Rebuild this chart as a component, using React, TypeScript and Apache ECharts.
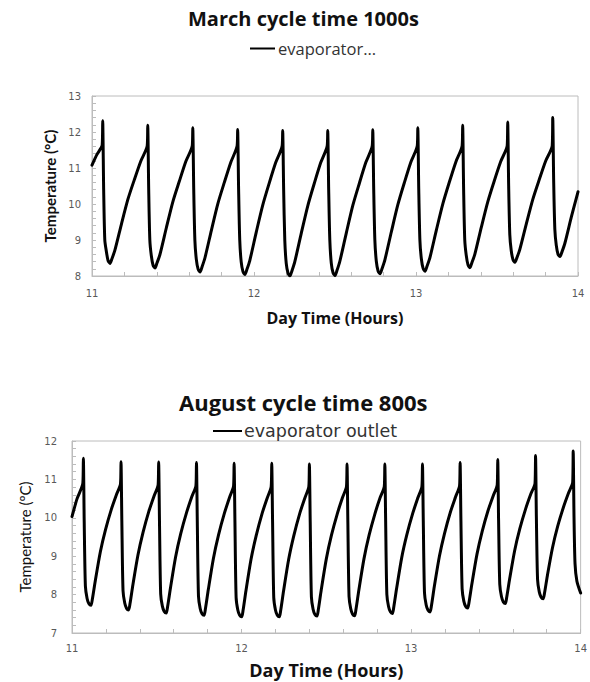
import React, { useEffect, useRef } from "react";
import * as echarts from "echarts";

const marchTitle = "March cycle time 1000s";
const augustTitle = "August cycle time 800s";
const marchLegend = "evaporator...";
const augustLegend = "evaporator outlet";
const xAxisName = "Day Time (Hours)";
const marchYName = "Temperature (°C)";
const augustYName = "Temperature (ºC)";

// [hour of day, temperature °C]
const marchSeries: [number, number][] = [
  [11.0, 11.08], [11.03, 11.37], [11.063, 11.64], [11.066, 12.31], [11.072, 10.4], [11.079, 9.0], [11.088, 8.7], [11.099, 8.43],
  [11.111, 8.35], [11.123, 8.48], [11.141, 8.71], [11.181, 9.43], [11.221, 10.12], [11.261, 10.67], [11.301, 11.19], [11.341, 11.62], [11.344, 12.19], [11.35, 10.4], [11.357, 9.0], [11.366, 8.57], [11.377, 8.3],
  [11.389, 8.22], [11.401, 8.36], [11.419, 8.59], [11.459, 9.34], [11.499, 10.06], [11.539, 10.63], [11.579, 11.18], [11.619, 11.62], [11.622, 12.12], [11.628, 10.4], [11.635, 9.0], [11.644, 8.46], [11.655, 8.19],
  [11.667, 8.11], [11.679, 8.25], [11.697, 8.5], [11.737, 9.27], [11.777, 10.01], [11.817, 10.6], [11.857, 11.16], [11.896, 11.62], [11.899, 12.07], [11.905, 10.4], [11.912, 9.0], [11.921, 8.39], [11.932, 8.12],
  [11.944, 8.04], [11.956, 8.18], [11.974, 8.43], [12.014, 9.22], [12.054, 9.97], [12.094, 10.58], [12.134, 11.15], [12.174, 11.62], [12.177, 12.04], [12.183, 10.4], [12.19, 9.0], [12.199, 8.35], [12.21, 8.08],
  [12.222, 8.0], [12.234, 8.14], [12.252, 8.4], [12.292, 9.19], [12.332, 9.95], [12.372, 10.57], [12.412, 11.15], [12.452, 11.62], [12.455, 12.04], [12.461, 10.4], [12.468, 9.0], [12.477, 8.36], [12.488, 8.09],
  [12.5, 8.01], [12.512, 8.15], [12.53, 8.41], [12.57, 9.2], [12.61, 9.96], [12.65, 10.57], [12.69, 11.15], [12.73, 11.62], [12.733, 12.06], [12.739, 10.4], [12.746, 9.0], [12.755, 8.41], [12.766, 8.14],
  [12.778, 8.06], [12.79, 8.2], [12.808, 8.45], [12.848, 9.23], [12.888, 9.98], [12.928, 10.59], [12.968, 11.16], [13.008, 11.62], [13.011, 12.12], [13.017, 10.4], [13.024, 9.0], [13.033, 8.48], [13.044, 8.21],
  [13.056, 8.13], [13.068, 8.27], [13.086, 8.51], [13.126, 9.28], [13.166, 10.01], [13.206, 10.61], [13.246, 11.17], [13.285, 11.62], [13.288, 12.19], [13.294, 10.4], [13.301, 9.0], [13.31, 8.58], [13.321, 8.31],
  [13.333, 8.23], [13.345, 8.37], [13.363, 8.6], [13.403, 9.35], [13.443, 10.06], [13.483, 10.64], [13.523, 11.18], [13.563, 11.62], [13.566, 12.28], [13.572, 10.5], [13.579, 9.15], [13.588, 8.7], [13.599, 8.45],
  [13.611, 8.38], [13.623, 8.51], [13.641, 8.74], [13.681, 9.45], [13.721, 10.13], [13.761, 10.68], [13.801, 11.2], [13.841, 11.62], [13.844, 12.4], [13.85, 10.6], [13.857, 9.3], [13.866, 8.85], [13.877, 8.6],
  [13.889, 8.54], [13.901, 8.67], [13.919, 8.91], [13.959, 9.64], [14.0, 10.34],
];

const augustSeries: [number, number][] = [
  [11.0, 10.03], [11.03, 10.5], [11.064, 10.9], [11.067, 11.55], [11.072, 9.9], [11.079, 8.22], [11.089, 7.9], [11.1, 7.76],
  [11.112, 7.72], [11.12, 7.88], [11.137, 8.35], [11.167, 9.11], [11.197, 9.68], [11.232, 10.22], [11.262, 10.6], [11.286, 10.88], [11.289, 11.46], [11.294, 9.9], [11.301, 8.1], [11.311, 7.78], [11.322, 7.64],
  [11.334, 7.6], [11.342, 7.76], [11.359, 8.25], [11.389, 9.03], [11.419, 9.62], [11.454, 10.18], [11.484, 10.57], [11.508, 10.86], [11.511, 11.45], [11.516, 9.9], [11.523, 8.02], [11.533, 7.7], [11.544, 7.56],
  [11.556, 7.52], [11.564, 7.69], [11.581, 8.18], [11.611, 8.98], [11.641, 9.58], [11.676, 10.14], [11.706, 10.54], [11.731, 10.84], [11.734, 11.44], [11.739, 9.9], [11.746, 7.96], [11.756, 7.64], [11.767, 7.5],
  [11.779, 7.46], [11.787, 7.63], [11.804, 8.13], [11.834, 8.94], [11.864, 9.55], [11.899, 10.12], [11.929, 10.53], [11.953, 10.83], [11.956, 11.42], [11.961, 9.9], [11.968, 7.92], [11.978, 7.6], [11.989, 7.46],
  [12.001, 7.42], [12.009, 7.59], [12.026, 8.1], [12.056, 8.92], [12.086, 9.53], [12.121, 10.11], [12.151, 10.51], [12.175, 10.82], [12.178, 11.42], [12.183, 9.9], [12.19, 7.92], [12.2, 7.6], [12.211, 7.46],
  [12.223, 7.42], [12.231, 7.59], [12.248, 8.1], [12.278, 8.92], [12.308, 9.53], [12.343, 10.11], [12.373, 10.51], [12.397, 10.82], [12.4, 11.4], [12.405, 9.9], [12.412, 7.94], [12.422, 7.62], [12.433, 7.48],
  [12.445, 7.44], [12.453, 7.61], [12.47, 8.12], [12.5, 8.93], [12.53, 9.54], [12.565, 10.11], [12.595, 10.52], [12.619, 10.82], [12.622, 11.4], [12.627, 9.9], [12.634, 7.95], [12.644, 7.63], [12.655, 7.49],
  [12.667, 7.45], [12.675, 7.62], [12.692, 8.12], [12.722, 8.93], [12.752, 9.54], [12.787, 10.11], [12.817, 10.52], [12.842, 10.82], [12.845, 11.4], [12.85, 9.9], [12.857, 8.01], [12.867, 7.69], [12.878, 7.55],
  [12.89, 7.51], [12.898, 7.68], [12.915, 8.17], [12.945, 8.97], [12.975, 9.56], [13.01, 10.12], [13.04, 10.52], [13.064, 10.82], [13.067, 11.4], [13.072, 9.9], [13.079, 8.05], [13.089, 7.73], [13.1, 7.59],
  [13.112, 7.55], [13.12, 7.71], [13.137, 8.21], [13.167, 9.0], [13.197, 9.59], [13.232, 10.15], [13.262, 10.54], [13.286, 10.84], [13.289, 11.44], [13.294, 9.9], [13.301, 8.15], [13.311, 7.83], [13.322, 7.69],
  [13.334, 7.65], [13.342, 7.81], [13.359, 8.29], [13.389, 9.06], [13.419, 9.64], [13.454, 10.19], [13.484, 10.57], [13.508, 10.86], [13.511, 11.52], [13.516, 9.95], [13.523, 8.27], [13.533, 7.95], [13.544, 7.81],
  [13.556, 7.77], [13.564, 7.93], [13.581, 8.4], [13.611, 9.15], [13.641, 9.71], [13.676, 10.24], [13.706, 10.62], [13.731, 10.9], [13.734, 11.62], [13.739, 10.0], [13.746, 8.39], [13.756, 8.07], [13.767, 7.93],
  [13.779, 7.89], [13.787, 8.04], [13.804, 8.5], [13.834, 9.22], [13.864, 9.77], [13.899, 10.28], [13.929, 10.65], [13.953, 10.92], [13.956, 11.74], [13.961, 10.0], [13.967, 8.8], [13.978, 8.35], [14.0, 8.04],
];

const xRange = [11, 14];
const marchYRange = [8, 13];
const augustYRange = [7, 12];

const AXIS_GRAY = "#bcbcbc";
const LABEL_GRAY = "#595959";

function makeXAxis(gridIndex: number, labelMargin: number, nameGap: number, nameSize: number) {
  return {
    type: "value",
    gridIndex,
    min: xRange[0],
    max: xRange[1],
    interval: 1,
    name: xAxisName,
    nameLocation: "middle",
    nameGap,
    nameTextStyle: { fontFamily: "Open Sans", fontWeight: "bold", fontSize: nameSize, color: "#111" },
    axisLine: { show: true, lineStyle: { color: AXIS_GRAY, width: 1 } },
    axisTick: { show: true, inside: true, length: 4, lineStyle: { color: AXIS_GRAY } },
    minorTick: { show: true, splitNumber: 5, length: 4, lineStyle: { color: AXIS_GRAY } },
    splitLine: { show: false },
    axisLabel: { fontFamily: "DejaVu Sans", fontSize: 10, color: LABEL_GRAY, margin: labelMargin },
  };
}

function makeYAxis(gridIndex: number, range: number[], name: string, bold: boolean, labelMargin: number, nameGap: number) {
  return {
    type: "value",
    gridIndex,
    min: range[0],
    max: range[1],
    interval: 1,
    name,
    nameLocation: "middle",
    nameGap,
    nameTextStyle: { fontFamily: "Lato", fontWeight: bold ? "bold" : "normal", fontSize: 15, color: "#111" },
    axisLine: { show: true, lineStyle: { color: AXIS_GRAY, width: 1 } },
    axisTick: { show: true, inside: true, length: 4, lineStyle: { color: AXIS_GRAY } },
    minorTick: { show: true, splitNumber: 5, length: 4, lineStyle: { color: AXIS_GRAY } },
    splitLine: { show: false },
    axisLabel: { fontFamily: "DejaVu Sans", fontSize: 10, color: LABEL_GRAY, margin: labelMargin },
  };
}

export default function App() {
  const ref = useRef<HTMLDivElement>(null);
  useEffect(() => {
    if (!ref.current) return;
    const chart = echarts.init(ref.current, null, { renderer: "svg" });
    const lineStyle = { color: "#000", width: 3, join: "round", cap: "round" };
    chart.setOption({
      animation: false,
      backgroundColor: "#fff",
      title: [
        {
          text: marchTitle,
          left: 188,
          top: 8,
          padding: 0,
          textStyle: { fontFamily: "Open Sans", fontWeight: "bold", fontSize: 20, color: "#111" },
        },
        {
          text: augustTitle,
          left: 179,
          top: 391,
          padding: 0,
          textStyle: { fontFamily: "Open Sans", fontWeight: "bold", fontSize: 22, color: "#111" },
        },
      ],
      legend: [
        {
          data: [marchLegend],
          left: 250,
          top: 40,
          padding: 0,
          icon: "rect",
          itemWidth: 25,
          itemHeight: 2,
          itemGap: 3,
          textStyle: { fontFamily: "Open Sans", fontSize: 16.5, color: "#333", padding: [0, 0, 0, -2] },
          selectedMode: false,
        },
        {
          data: [augustLegend],
          left: 213,
          top: 422,
          padding: 0,
          icon: "rect",
          itemWidth: 29,
          itemHeight: 2,
          textStyle: { fontFamily: "DejaVu Sans", fontSize: 17.5, color: "#333", padding: [0, 0, 0, -3] },
          selectedMode: false,
        },
      ],
      grid: [
        { left: 92, right: 12, top: 96, height: 180, show: true, borderColor: AXIS_GRAY, borderWidth: 1 },
        { left: 72, right: 5, top: 441, height: 192, show: true, borderColor: AXIS_GRAY, borderWidth: 1 },
      ],
      xAxis: [makeXAxis(0, 12, 34, 16), makeXAxis(1, 10, 28, 18)],
      yAxis: [
        makeYAxis(0, marchYRange, marchYName, true, 11, 35),
        makeYAxis(1, augustYRange, augustYName, false, 15, 40),
      ],
      series: [
        {
          name: marchLegend,
          type: "line",
          xAxisIndex: 0,
          yAxisIndex: 0,
          data: marchSeries,
          showSymbol: false,
          symbol: "none",
          smooth: 0.25,
          lineStyle,
          itemStyle: { color: "#000" },
        },
        {
          name: augustLegend,
          type: "line",
          xAxisIndex: 1,
          yAxisIndex: 1,
          data: augustSeries,
          showSymbol: false,
          symbol: "none",
          smooth: 0.25,
          lineStyle,
          itemStyle: { color: "#000" },
        },
      ],
    });
    return () => chart.dispose();
  }, []);
  return (
    <div
      ref={ref}
      style={{ position: "fixed", left: 0, top: 0, width: 590, height: 682, background: "#fff" }}
    />
  );
}
